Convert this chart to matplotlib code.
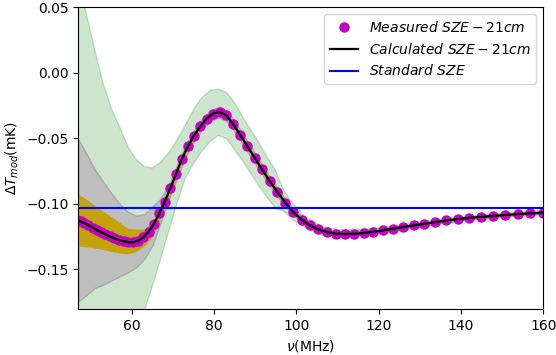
import numpy as np
import matplotlib
matplotlib.use("Agg")
import matplotlib.pyplot as plt

# frequencies of the measured points (MHz)
nu = [46.59, 47.52, 48.48, 49.45, 50.45, 51.46, 52.50, 53.55, 54.63, 55.73,
      56.85, 57.99, 59.15, 60.34, 61.56, 62.79, 64.06, 65.34, 66.66, 68.00,
      69.36, 70.76, 72.18, 73.63, 75.11, 76.62, 78.16, 79.73, 81.33, 82.97,
      84.64, 86.34, 88.07, 89.84, 91.65, 93.49, 95.37, 97.29, 99.24, 101.24,
      103.27, 105.35, 107.47, 109.63, 111.83, 114.08, 116.37, 118.71, 121.09, 123.53,
      126.01, 128.54, 131.13, 133.76, 136.45, 139.19, 141.99, 144.85, 147.76, 150.73,
      153.76, 156.85, 160.00]

# measured SZE-21cm (mK)
measured = [-0.1120, -0.1133, -0.1148, -0.1163, -0.1180, -0.1198, -0.1215, -0.1232, -0.1248, -0.1262,
            -0.1275, -0.1285, -0.1292, -0.1293, -0.1280, -0.1255, -0.1212, -0.1152, -0.1072, -0.0982,
            -0.0880, -0.0770, -0.0655, -0.0560, -0.0480, -0.0410, -0.0350, -0.0312, -0.0300, -0.0325,
            -0.0392, -0.0475, -0.0560, -0.0648, -0.0737, -0.0825, -0.0910, -0.0990, -0.1062, -0.1120,
            -0.1163, -0.1195, -0.1215, -0.1227, -0.1230, -0.1228, -0.1222, -0.1213, -0.1201, -0.1189,
            -0.1176, -0.1164, -0.1152, -0.1139, -0.1126, -0.1116, -0.1107, -0.1099, -0.1092, -0.1085,
            -0.1078, -0.1072, -0.1066]

# calculated SZE-21cm (mK)
calculated = list(measured)

# standard SZE level (mK)
standard = -0.103

# uncertainty bands
band_nu = [47, 49, 51, 53, 55, 57, 59, 61, 63, 65, 67, 69, 71, 73, 75, 77, 79, 81, 83, 85,
           87, 89, 91, 93, 95, 97, 99, 102, 106, 110, 120, 130, 140, 150, 160]

green_hi = [0.072, 0.044, 0.017, -0.008, -0.027, -0.041, -0.056, -0.066, -0.0715, -0.0725,
            -0.068, -0.061, -0.051, -0.040, -0.028, -0.019, -0.0135, -0.0125, -0.015, -0.023,
            -0.034, -0.044, -0.054, -0.065, -0.075, -0.090, -0.099, -0.1095, -0.1165, -0.1198,
            -0.1185, -0.1137, -0.1095, -0.107, -0.105]
green_lo = [-0.2972, -0.2752, -0.255, -0.2366, -0.2234, -0.2142, -0.2042, -0.1960, -0.1820, -0.1625,
            -0.142, -0.1204, -0.0992, -0.0802, -0.0692, -0.060, -0.0525, -0.0479, -0.0502, -0.059,
            -0.0676, -0.0772, -0.087, -0.0954, -0.1036, -0.1056, -0.1118, -0.1179, -0.1239, -0.1258,
            -0.1227, -0.1177, -0.1131, -0.1104, -0.1082]

gray_hi = [-0.051, -0.062, -0.074, -0.083, -0.092, -0.100, -0.106, -0.109, -0.108, -0.102,
           -0.096, -0.085, -0.070, -0.0555, -0.0445, -0.0355, -0.0290, -0.0262, -0.0286, -0.0370,
           -0.0468, -0.0568, -0.0668, -0.0767, -0.0860, -0.0950, -0.1030, -0.1115, -0.1185, -0.1213,
           -0.1193, -0.1145, -0.1102, -0.1077, -0.1057]
gray_lo = [-0.1742, -0.1692, -0.164, -0.1616, -0.1584, -0.1552, -0.1522, -0.1484, -0.142, -0.1316,
           -0.114, -0.0964, -0.0802, -0.0647, -0.0527, -0.0435, -0.037, -0.0342, -0.0366, -0.045,
           -0.0548, -0.0644, -0.0742, -0.0837, -0.0926, -0.1006, -0.1078, -0.1159, -0.1219, -0.1243,
           -0.1219, -0.1169, -0.1124, -0.1097, -0.1075]

gold_hi = [-0.093, -0.097, -0.1015, -0.106, -0.110, -0.1145, -0.119, -0.1195, -0.1195, -0.1135,
           -0.1015, -0.0885, -0.0733, -0.0583, -0.0468, -0.0377, -0.0312, -0.0284, -0.0308, -0.0392,
           -0.049, -0.0588, -0.0687, -0.0784, -0.0875, -0.096, -0.1038, -0.1123, -0.119, -0.1218,
           -0.1198, -0.115, -0.1107, -0.1082, -0.1061]
gold_lo = [-0.132, -0.1325, -0.1333, -0.1345, -0.136, -0.1372, -0.1378, -0.136, -0.1315, -0.1245,
           -0.110, -0.094, -0.0769, -0.0619, -0.0504, -0.0413, -0.0348, -0.032, -0.0344, -0.0428,
           -0.0526, -0.0624, -0.0723, -0.082, -0.0911, -0.0996, -0.107, -0.1151, -0.1214, -0.1238,
           -0.1214, -0.1164, -0.1119, -0.1092, -0.1071]

fig = plt.figure(figsize=(5.56, 3.55), dpi=100)
ax = fig.add_axes([0.141, 0.130, 0.836, 0.850])

ax.fill_between(band_nu, green_lo, green_hi, color='g', alpha=0.2)
ax.fill_between(band_nu, gray_lo, gray_hi, facecolor='#bebebe', edgecolor='#aaa6ad', linewidth=1)
ax.fill_between(band_nu, gold_lo, gold_hi, facecolor='#c4a20c', edgecolor='#c4a20c', linewidth=0.5)

ax.plot(nu, measured, 'mo', markersize=6.5, label=r'$Measured\ SZE-21cm$')
ax.plot(nu, calculated, 'k-', linewidth=1.6, label=r'$Calculated\ SZE-21cm$')
ax.axhline(standard, color='b', linewidth=1.5, label=r'$Standard\ SZE$')

ax.set_xlim(47, 160)
ax.set_ylim(-0.18, 0.05)
ax.set_xticks([60, 80, 100, 120, 140, 160])
ax.set_yticks([-0.15, -0.10, -0.05, 0.00, 0.05])
ax.set_xlabel(r'$\nu$(MHz)')
ax.set_ylabel(r'$\Delta T_{mod}$(mK)')
ax.legend(loc='upper right')

plt.savefig('out.png', dpi=100)
